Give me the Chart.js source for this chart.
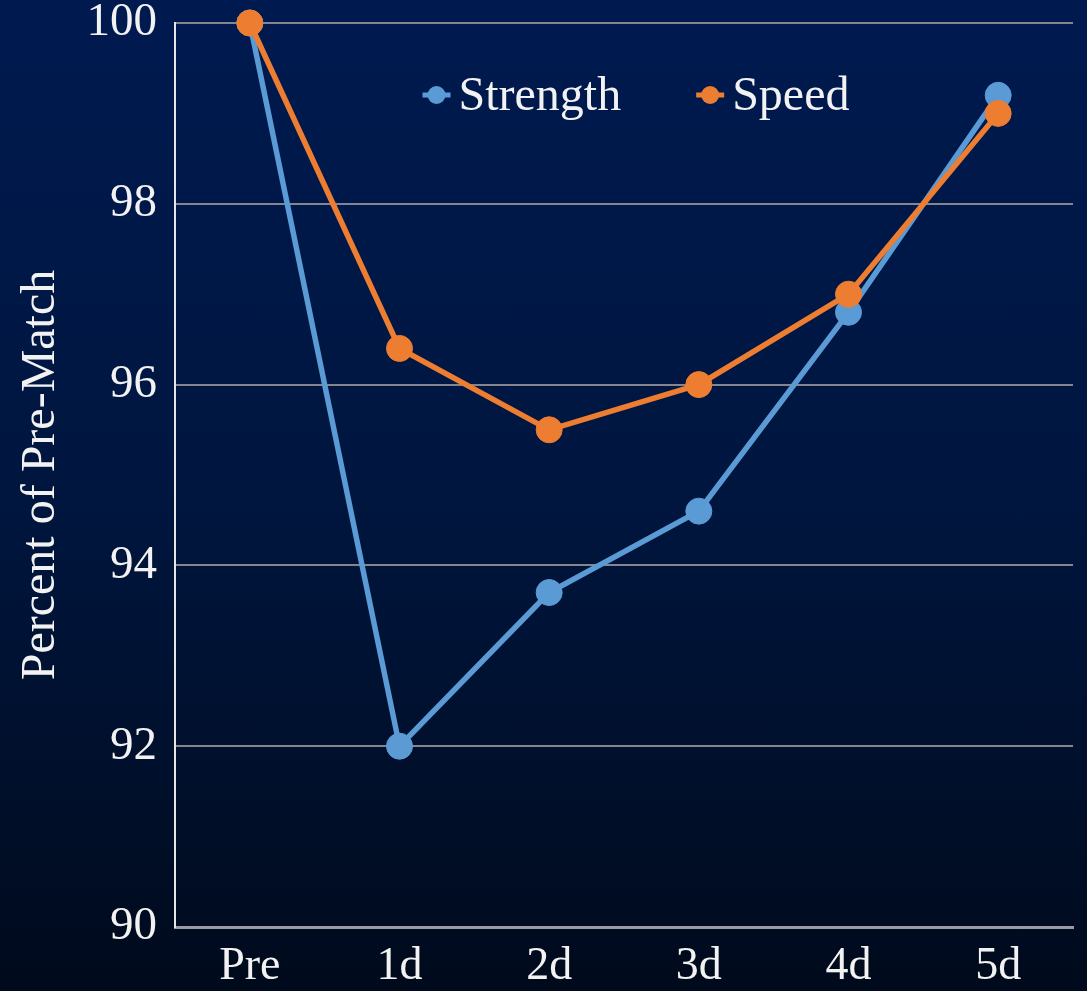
<!DOCTYPE html>
<html>
<head>
<meta charset="utf-8">
<script src="https://cdn.jsdelivr.net/npm/chart.js@4"></script>
<style>
  html, body { margin: 0; padding: 0; }
  body {
    width: 1087px; height: 991px; overflow: hidden;
    background: linear-gradient(to bottom, #001a50 0%, #00163f 50%, #000a1c 100%);
  }
  #wrap { width: 1087px; height: 991px; position: relative; }
</style>
</head>
<body>
<div id="wrap"><canvas id="chart"></canvas></div>
<script>
// days after match
const labels = ['Pre', '1d', '2d', '3d', '4d', '5d'];
const strength = [100, 92.0, 93.7, 94.6, 96.8, 99.2];
const speed = [100, 96.4, 95.5, 96.0, 97.0, 99.0];
const yTicks = [90, 92, 94, 96, 98, 100];

const fontFam = "'Liberation Serif', 'DejaVu Serif', serif";
const textCol = '#f2f2f2';

// legend drawn inside the plot, excel style (line + dot)
const insideLegend = {
  id: 'insideLegend',
  afterDraw(chart) {
    const c = chart.ctx;
    const area = chart.chartArea;
    c.save();
    c.font = '48px ' + fontFam;
    c.textBaseline = 'middle';
    const mark = 28, gapText = 8, gapItem = 75;
    const items = chart.data.datasets.map(ds => ({
      text: ds.label, color: ds.borderColor, w: mark + gapText + c.measureText(ds.label).width
    }));
    const total = items.reduce((s, it) => s + it.w, 0) + gapItem * (items.length - 1);
    let x = (area.left + area.right) / 2 + 12 - total / 2;
    const y = area.top + 72;
    items.forEach(it => {
      c.strokeStyle = it.color;
      c.lineWidth = 5;
      c.beginPath();
      c.moveTo(x, y);
      c.lineTo(x + mark, y);
      c.stroke();
      c.fillStyle = it.color;
      c.beginPath();
      c.arc(x + mark / 2, y, 9, 0, Math.PI * 2);
      c.fill();
      c.fillStyle = textCol;
      c.fillText(it.text, x + mark + gapText, y + 2);
      x += it.w + gapItem;
    });
    c.restore();
  }
};

const ctx = document.getElementById('chart').getContext('2d');
new Chart(ctx, {
  type: 'line',
  data: {
    labels: labels,
    datasets: [
      {
        label: 'Strength',
        data: strength,
        borderColor: '#5b9bd5',
        backgroundColor: '#5b9bd5',
        borderWidth: 5.5,
        pointRadius: 13,
        pointBorderWidth: 1,
        pointHoverRadius: 13,
        tension: 0,
        clip: false,
        order: 1
      },
      {
        label: 'Speed',
        data: speed,
        borderColor: '#ed7d31',
        backgroundColor: '#ed7d31',
        borderWidth: 5.5,
        pointRadius: 13,
        pointBorderWidth: 1,
        pointHoverRadius: 13,
        tension: 0,
        clip: false,
        order: 0
      }
    ]
  },
  options: {
    responsive: true,
    maintainAspectRatio: false,
    animation: false,
    layout: { padding: { top: 23, right: 10, bottom: 0, left: 0 } },
    plugins: {
      tooltip: { enabled: false },
      legend: { display: false }
    },
    scales: {
      x: {
        offset: true,
        grid: { display: false },
        border: { display: true, color: '#9a9aa2', width: 3 },
        ticks: {
          color: textCol,
          font: { family: fontFam, size: 46 },
          padding: 4,
          maxRotation: 0
        },
        afterFit: (scale) => {
          scale.height = 64;
          scale.paddingLeft = 0;
          scale.paddingRight = 0;
        }
      },
      y: {
        min: 90,
        max: 100,
        afterBuildTicks: (scale) => { scale.ticks = yTicks.map(v => ({ value: v })); },
        grid: { color: '#85858f', lineWidth: 2, drawTicks: false },
        border: { display: true, color: '#e6e6e6', width: 2 },
        ticks: {
          color: textCol,
          font: { family: fontFam, size: 47, lineHeight: 1 },
          padding: 18
        },
        title: {
          display: true,
          text: 'Percent of Pre-Match',
          color: textCol,
          font: { family: fontFam, size: 48, lineHeight: 1.2 },
          padding: { top: 13, bottom: 0 }
        },
        afterFit: (scale) => {
          scale.width = 175;
          scale.paddingTop = 0;
          scale.paddingBottom = 0;
        }
      }
    }
  },
  plugins: [insideLegend]
});
</script>
</body>
</html>
